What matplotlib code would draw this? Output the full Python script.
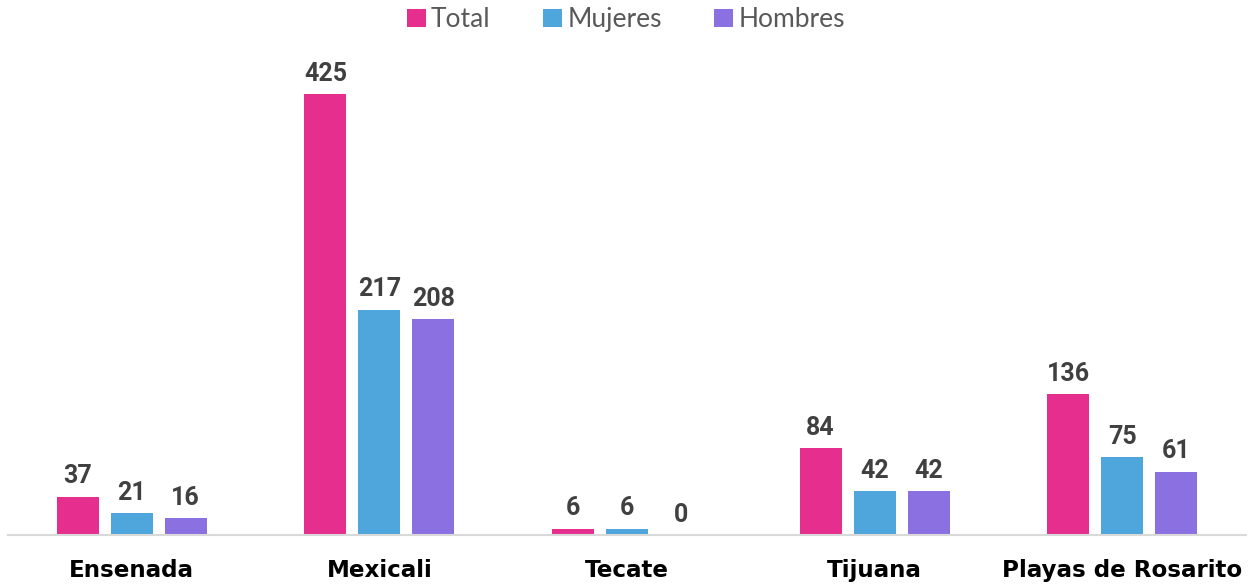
import matplotlib
matplotlib.use("Agg")
import matplotlib.pyplot as plt
import numpy as np

categories = ["Ensenada", "Mexicali", "Tecate", "Tijuana", "Playas de Rosarito"]
series_names = ["Total", "Mujeres", "Hombres"]
total = [37, 425, 6, 84, 136]
mujeres = [21, 217, 6, 42, 75]
hombres = [16, 208, 0, 42, 61]
colors = ["#E52E8E", "#4EA6DC", "#8A70E0"]

W, H = 1252, 587
fig = plt.figure(figsize=(W / 100, H / 100), dpi=100)
left, right = 8 / W, 1246 / W
bottom = 52 / H
top_px = 40
ax = fig.add_axes([left, bottom, right - left, (H - 52 - top_px) / H])

x = np.arange(len(categories))
width = 0.17
step = 0.218
data = [total, mujeres, hombres]
for i, (vals, c, name) in enumerate(zip(data, colors, series_names)):
    pos = x + (i - 1) * step
    ax.bar(pos, vals, width=width, color=c, label=name, zorder=2)
    for xp, v in zip(pos, vals):
        ax.text(xp, v + 8, str(v), ha="center", va="bottom",
                fontsize=18, fontweight="bold", color="#404040", family="Roboto")

ax.set_xlim(-0.5, len(categories) - 0.5)
ax.set_ylim(0, (H - 52 - top_px) / 1.038)
ax.set_yticks([])
ax.set_xticks(x)
ax.set_xticklabels(categories, fontsize=16.6, fontweight="bold", color="#000000", family="DejaVu Sans")
ax.tick_params(axis="x", length=0, pad=17)
for s in ["top", "right", "left"]:
    ax.spines[s].set_visible(False)
ax.spines["bottom"].set_color("#D9D9D9")
ax.spines["bottom"].set_linewidth(1.5)

leg = fig.legend(loc="upper center", bbox_to_anchor=(0.5, 1.028), ncol=3, frameon=False,
                 prop={"family": "Lato", "size": 19}, handlelength=0.7, handleheight=0.7,
                 handletextpad=0.2, columnspacing=2.0)
for t in leg.get_texts():
    t.set_color("#595959")

fig.savefig("out.png", dpi=100)
